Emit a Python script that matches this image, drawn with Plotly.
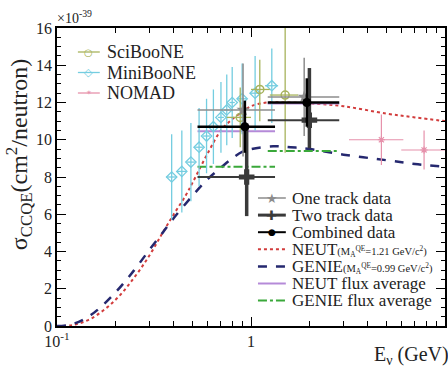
import plotly.graph_objects as go

# ---------------- data ----------------
# MiniBooNE
mb_E = [0.39, 0.44, 0.49, 0.54, 0.59, 0.64, 0.70, 0.75, 0.80, 0.90, 1.05, 1.28]
mb_s = [8.0, 8.3, 8.8, 9.6, 10.2, 10.7, 11.2, 11.6, 12.0, 12.2, 12.5, 12.9]
mb_ey = [2.3, 2.2, 2.1, 2.1, 2.0, 2.0, 1.9, 1.9, 1.9, 1.9, 2.0, 2.0]
mb_ex = [0.025, 0.025, 0.025, 0.025, 0.025, 0.025, 0.025, 0.025, 0.025, 0.05, 0.05, 0.1]

# SciBooNE
sb_E = [0.88, 1.11, 1.50]
sb_s = [11.2, 12.7, 12.4]
sb_eyp = [1.6, 1.6, 3.6]
sb_eym = [1.6, 1.7, 3.1]
sb_lo = [0.75, 1.00, 1.25]
sb_hi = [1.00, 1.25, 1.75]

# NOMAD
nm_E = [4.7, 7.8]
nm_s = [10.0, 9.45]
nm_ey = [1.35, 1.05]
nm_lo = [3.2, 5.95]
nm_hi = [6.1, 10.0]

# this measurement
bin_lo = [0.53, 1.22]
bin_hi = [1.33, 2.85]
one_E = [0.91, 1.88]
one_s = [11.6, 12.3]
one_ey = [2.5, 2.1]
two_E = [0.95, 2.0]
two_s = [8.0, 11.05]
two_eyp = [2.8, 2.8]
two_eym = [2.1, 1.5]
comb_E = [0.93, 1.94]
comb_s = [10.7, 12.0]
comb_ey = [1.4, 1.3]

# flux averaged predictions per bin
neut_flux = [10.45, 11.95]
genie_flux = [8.55, 9.4]

# model curves
neut_E = [0.1, 0.12, 0.15, 0.2, 0.25, 0.3, 0.35, 0.4, 0.46, 0.5, 0.6, 0.7, 0.8, 0.9,
          1.0, 1.2, 1.5, 2.0, 3.0, 5.0, 7.0, 10.0]
neut_s = [0.0, 0.05, 0.4, 1.4, 2.6, 3.8, 5.0, 6.0, 7.0, 7.7, 9.3, 10.5, 11.1, 11.5,
          11.8, 12.0, 12.0, 11.95, 11.8, 11.4, 11.2, 11.0]
genie_E = [0.1, 0.12, 0.15, 0.2, 0.25, 0.3, 0.35, 0.4, 0.5, 0.6, 0.7, 0.8, 0.9,
           1.0, 1.3, 1.6, 2.0, 3.0, 5.0, 7.0, 10.0]
genie_s = [0.0, 0.1, 0.6, 1.8, 3.0, 4.1, 5.0, 5.8, 7.0, 7.9, 8.5, 9.0, 9.35,
           9.5, 9.65, 9.6, 9.5, 9.2, 8.9, 8.7, 8.55]

x_major = [0.1, 1, 10]
x_major_text = ["10<sup>-1</sup>", "1", "10"]
x_minor = [0.2, 0.3, 0.4, 0.5, 0.6, 0.7, 0.8, 0.9, 2, 3, 4, 5, 6, 7, 8, 9]
y_major = [0, 2, 4, 6, 8, 10, 12, 14, 16]

# ---------------- styles ----------------
FONT = "Liberation Serif"
C_SB = "#a7b35c"
C_MB = "#74cde0"
C_NM = "#e691ab"
C_NEUT = "#d23c3c"
C_GENIE = "#25286f"
C_NFLUX = "#b58ad8"
C_GFLUX = "#3aa83a"
C_ONE = "#8c8c8c"
C_TWO = "#3a3a3a"
TXT = "#222"


def minus(c, lo):
    return [a - b for a, b in zip(c, lo)]


def plus(c, hi):
    return [b - a for a, b in zip(c, hi)]


def steps(lo, hi, v):
    xs, ys = [], []
    for a, b, y in zip(lo, hi, v):
        xs += [a, b, None]
        ys += [y, y, None]
    return xs, ys


fig = go.Figure()

# model curves
fig.add_trace(go.Scatter(x=neut_E, y=neut_s, mode="lines", line=dict(color=C_NEUT, width=2, dash="dot"),
                         line_shape="spline", name="NEUT", showlegend=False))
fig.add_trace(go.Scatter(x=genie_E, y=genie_s, mode="lines", line=dict(color=C_GENIE, width=2.5, dash="dash"),
                         line_shape="spline", name="GENIE", showlegend=False))

# flux averages
nx, ny = steps(bin_lo, bin_hi, neut_flux)
fig.add_trace(go.Scatter(x=nx, y=ny, mode="lines", line=dict(color=C_NFLUX, width=2),
                         name="NEUT flux average", showlegend=False))
gx, gy = steps(bin_lo, bin_hi, genie_flux)
fig.add_trace(go.Scatter(x=gx, y=gy, mode="lines", line=dict(color=C_GFLUX, width=2, dash="dashdot"),
                         name="GENIE flux average", showlegend=False))

# external data
fig.add_trace(go.Scatter(x=mb_E, y=mb_s, mode="markers", name="MiniBooNE",
                         marker=dict(symbol="diamond-open", size=8, color=C_MB, line=dict(width=1.3)),
                         error_y=dict(type="data", array=mb_ey, color=C_MB, thickness=1.3, width=0),
                         error_x=dict(type="data", array=mb_ex, color=C_MB, thickness=1.3, width=0),
                         showlegend=False))
fig.add_trace(go.Scatter(x=sb_E, y=sb_s, mode="markers", name="SciBooNE",
                         marker=dict(symbol="circle-open", size=8, color=C_SB, line=dict(width=1.5)),
                         error_y=dict(type="data", array=sb_eyp, arrayminus=sb_eym, color=C_SB, thickness=1.3, width=0),
                         error_x=dict(type="data", array=plus(sb_E, sb_hi), arrayminus=minus(sb_E, sb_lo),
                                      color=C_SB, thickness=1.3, width=0),
                         showlegend=False))
fig.add_trace(go.Scatter(x=nm_E, y=nm_s, mode="markers", name="NOMAD",
                         marker=dict(symbol="asterisk-open", size=6, color=C_NM, line=dict(width=1.2, color=C_NM)),
                         error_y=dict(type="data", array=nm_ey, color=C_NM, thickness=1.2, width=0),
                         error_x=dict(type="data", array=plus(nm_E, nm_hi), arrayminus=minus(nm_E, nm_lo),
                                      color=C_NM, thickness=1.2, width=0),
                         showlegend=False))

# this measurement
fig.add_trace(go.Scatter(x=one_E, y=one_s, mode="markers", name="One track data",
                         marker=dict(symbol="star", size=10, color=C_ONE),
                         error_y=dict(type="data", array=one_ey, color=C_ONE, thickness=1.5, width=0),
                         error_x=dict(type="data", array=plus(one_E, bin_hi), arrayminus=minus(one_E, bin_lo),
                                      color=C_ONE, thickness=1.5, width=0),
                         showlegend=False))
fig.add_trace(go.Scatter(x=two_E, y=two_s, mode="markers", name="Two track data",
                         marker=dict(symbol="cross", size=13, color=C_TWO),
                         error_y=dict(type="data", array=two_eyp, arrayminus=two_eym, color=C_TWO, thickness=3.5, width=0),
                         error_x=dict(type="data", array=plus(two_E, bin_hi), arrayminus=minus(two_E, bin_lo),
                                      color=C_TWO, thickness=2, width=0),
                         showlegend=False))
fig.add_trace(go.Scatter(x=comb_E, y=comb_s, mode="markers", name="Combined data",
                         marker=dict(symbol="circle", size=9, color="black"),
                         error_y=dict(type="data", array=comb_ey, color="black", thickness=2.5, width=0),
                         error_x=dict(type="data", array=plus(comb_E, bin_hi), arrayminus=minus(comb_E, bin_lo),
                                      color="black", thickness=2.5, width=0),
                         showlegend=False))

# ---------------- legends (drawn compactly, as in the original) ----------------
PLOT_L, PLOT_W, PLOT_B, PLOT_H = 57, 390, 326, 298


def px2x(p):
    return (p - PLOT_L) / PLOT_W


def py2y(p):
    return (PLOT_B - p) / PLOT_H


shapes = []
annotations = []


def legend_block(labels, colors, dashes, widths, glyphs, gsizes, top, step, k0, k1, tx, fsize):
    for i, lab in enumerate(labels):
        yy = py2y(top + i * step)
        shapes.append(dict(type="line", xref="paper", yref="paper", x0=px2x(k0), x1=px2x(k1),
                           y0=yy, y1=yy, line=dict(color=colors[i], width=widths[i], dash=dashes[i])))
        if glyphs[i]:
            annotations.append(dict(text=glyphs[i], xref="paper", yref="paper",
                                    x=px2x((k0 + k1) / 2), y=yy, xanchor="center", yanchor="middle",
                                    showarrow=False, bgcolor="rgba(0,0,0,0)",
                                    font=dict(family="DejaVu Sans", size=gsizes[i], color=colors[i])))
        annotations.append(dict(text=lab, xref="paper", yref="paper", x=px2x(tx), y=yy,
                                xanchor="left", yanchor="middle", showarrow=False,
                                font=dict(family=FONT, size=fsize, color=TXT)))


leg1_labels = ["SciBooNE", "MiniBooNE", "NOMAD"]
leg1_colors = [C_SB, C_MB, C_NM]
leg1_glyph = ["○", "◇", "✶"]
legend_block(leg1_labels, leg1_colors, ["solid"] * 3, [1.3] * 3, leg1_glyph, [10, 11, 7],
             top=52, step=20.5, k0=78, k1=100, tx=105, fsize=18)

small = "<span style='font-size:10.5px'>(M<sub>A</sub><sup>QE</sup>=%s GeV/c<sup>2</sup>)</span>"
leg2_labels = ["One track data", "Two track data", "Combined data",
               "NEUT" + small % "1.21", "GENIE" + small % "0.99",
               "NEUT flux average", "GENIE flux average"]
leg2_colors = [C_ONE, C_TWO, "black", C_NEUT, C_GENIE, C_NFLUX, C_GFLUX]
leg2_dash = ["solid", "solid", "solid", "dot", "dash", "solid", "dashdot"]
leg2_width = [1.5, 3, 2, 2, 2.5, 2, 2]
leg2_glyph = ["★", "✚", "●", "", "", "", ""]
legend_block(leg2_labels, leg2_colors, leg2_dash, leg2_width, leg2_glyph, [13, 13, 9, 0, 0, 0, 0],
             top=198, step=17.1, k0=259, k1=287, tx=291, fsize=17)

annotations += [
    dict(text="×10<sup>-39</sup>", xref="paper", yref="paper", x=px2x(55), y=1.0, xanchor="left",
         yanchor="bottom", showarrow=False, font=dict(family=FONT, size=14, color=TXT)),
    dict(text="E<sub>ν</sub> (GeV)", xref="paper", yref="paper", x=px2x(453), y=py2y(355), xanchor="right",
         yanchor="middle", showarrow=False, font=dict(family=FONT, size=20, color=TXT)),
    dict(text="σ<sub>CCQE</sub>(cm<sup>2</sup>/neutron)", xref="paper", yref="paper",
         x=px2x(19), y=py2y(155), xanchor="center", yanchor="middle", textangle=-90,
         showarrow=False, font=dict(family=FONT, size=24, color=TXT)),
]

axis_common = dict(showline=True, linecolor="black", linewidth=1.5, mirror="allticks",
                   ticks="inside", ticklen=9, tickcolor="black", tickwidth=1, showgrid=False,
                   zeroline=False, tickfont=dict(family=FONT, size=16, color=TXT))

fig.update_layout(
    width=448, height=367,
    margin=dict(l=PLOT_L, r=1, t=28, b=41),
    paper_bgcolor="white", plot_bgcolor="white",
    font=dict(family=FONT, color=TXT),
    showlegend=False,
    xaxis=dict(type="log", range=[-1, 1], tickvals=x_major, ticktext=x_major_text,
               minor=dict(tickvals=x_minor, ticks="inside", ticklen=5, tickcolor="black"),
               **axis_common),
    yaxis=dict(range=[0, 16], tickvals=y_major,
               minor=dict(dtick=0.5, ticks="inside", ticklen=4, tickcolor="black"),
               **axis_common),
    shapes=shapes,
    annotations=annotations,
)

# the page's default 8px body margin would shift the 448x367 figure inside the window
fig.write_html("out.html", config={"displayModeBar": False},
               post_script="document.body.style.margin='0';")
